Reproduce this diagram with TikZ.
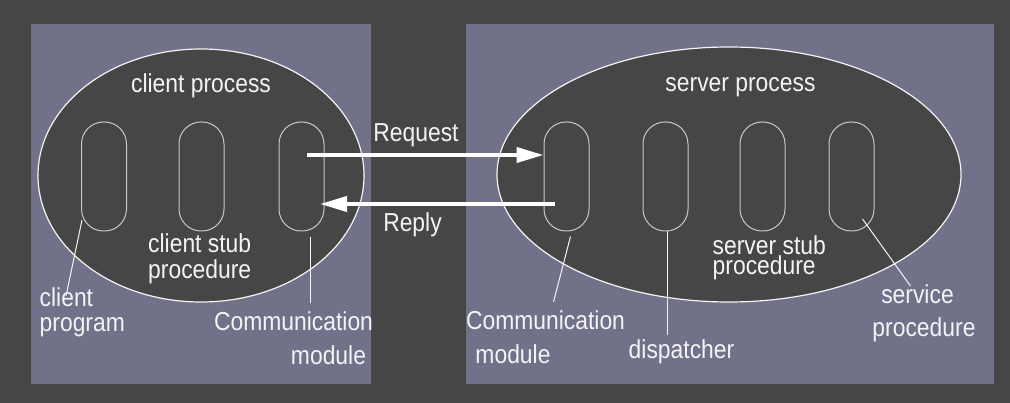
\documentclass[tikz,border=0pt]{standalone}
\usepackage{fontspec}
\setmainfont{Liberation Sans}[FakeStretch=0.88]
\usetikzlibrary{shapes.geometric,arrows.meta}
\definecolor{bgdark}{HTML}{464646}
\definecolor{panel}{HTML}{71718A}
\definecolor{pillline}{HTML}{C8C8C8}
\definecolor{txt}{HTML}{F4F4F4}
\begin{document}
\begin{tikzpicture}[x=1pt,y=-1pt,
  proc/.style={ellipse, draw=txt, line width=1.2pt, fill=bgdark, inner sep=0pt},
  pill/.style={draw=pillline, line width=1pt, rounded corners=22pt,
    minimum width=45pt, minimum height=109pt, inner sep=0pt},
  lbl/.style={text=txt, font=\fontsize{26}{28}\selectfont, inner sep=0pt},
  leader/.style={draw=txt, line width=1pt},
  msg/.style={draw=white, line width=4pt, -{Triangle[length=27pt,width=15pt]}}
]
% canvas and the two hosts
\useasboundingbox (0,0) rectangle (1010,403);
\fill[bgdark] (0,0) rectangle (1010,403);
\fill[panel] (31,24) rectangle (371,384);
\fill[panel] (466,24) rectangle (994,384);

% processes
\node[proc, minimum width=326pt, minimum height=253pt] (cproc) at (201,175.5) {};
\node[proc, minimum width=464pt, minimum height=255pt] (sproc) at (729,174.5) {};

% client-side components
\node[pill] (cprogp) at (104,176.5) {};
\node[pill] (cstub)  at (201.5,176.5) {};
\node[pill] (ccomm)  at (301.5,176.5) {};

% server-side components
\node[pill] (scomm) at (566.5,176.5) {};
\node[pill] (disp)  at (665.5,176.5) {};
\node[pill] (sstub) at (762.5,176.5) {};
\node[pill] (serv)  at (851.5,176.5) {};

% labels
\node[lbl, anchor=base] (cproclbl) at (201,93) {client process};
\node[lbl, anchor=base] (sproclbl) at (740.5,92) {server process};

\node[lbl, anchor=base west] (cstub1) at (148,253) {client stub};
\node[lbl, anchor=base west] (cstub2) at (148,279) {procedure};

\node[lbl, anchor=base west] (cprog1) at (39.5,307) {client};
\node[lbl, anchor=base west] (cprog2) at (39.5,332) {program};

\node[lbl, anchor=base] (ccomm1) at (293.5,331) {Communication};
\node[lbl, anchor=base] (ccomm2) at (328.5,365) {module};

\node[lbl, anchor=base] (scomm1) at (545.5,330) {Communication};
\node[lbl, anchor=base] (scomm2) at (513,364) {module};

\node[lbl, anchor=base] (displbl) at (681.5,359) {dispatcher};

\node[lbl, anchor=base west] (sstub1) at (712.5,255) {server stub};
\node[lbl, anchor=base west] (sstub2) at (712.5,275) {procedure};

\node[lbl, anchor=base] (serv1) at (917.5,304) {service};
\node[lbl, anchor=base] (serv2) at (924,337) {procedure};

\node[lbl, anchor=base] (reqlbl) at (416,142) {Request};
\node[lbl, anchor=base] (replbl) at (412.5,232) {Reply};

% request / reply messages
\coordinate (reqstart) at (307,155);
\draw[msg] (reqstart) -- (reqstart -| scomm.west);
\coordinate (repstart) at (555,204);
\coordinate (repend) at (320,204);
\draw[msg] (repstart) -- (repend);

% leader lines from components to their labels
\coordinate (lp1) at (82,220);   \coordinate (lp2) at (66,296);
\draw[leader] (lp1) -- (lp2);
\coordinate (lc1) at (310.7,237); \coordinate (lc2) at (310.7,303);
\draw[leader] (lc1) -- (lc2);
\coordinate (ls1) at (570.5,236.5); \coordinate (ls2) at (553.5,302);
\draw[leader] (ls1) -- (ls2);
\coordinate (ld2) at (667.3,335);
\draw[leader] (disp.south -| ld2) -- (ld2);
\coordinate (lv1) at (862.5,219); \coordinate (lv2) at (910.5,286);
\draw[leader] (lv1) -- (lv2);
\end{tikzpicture}
\end{document}
